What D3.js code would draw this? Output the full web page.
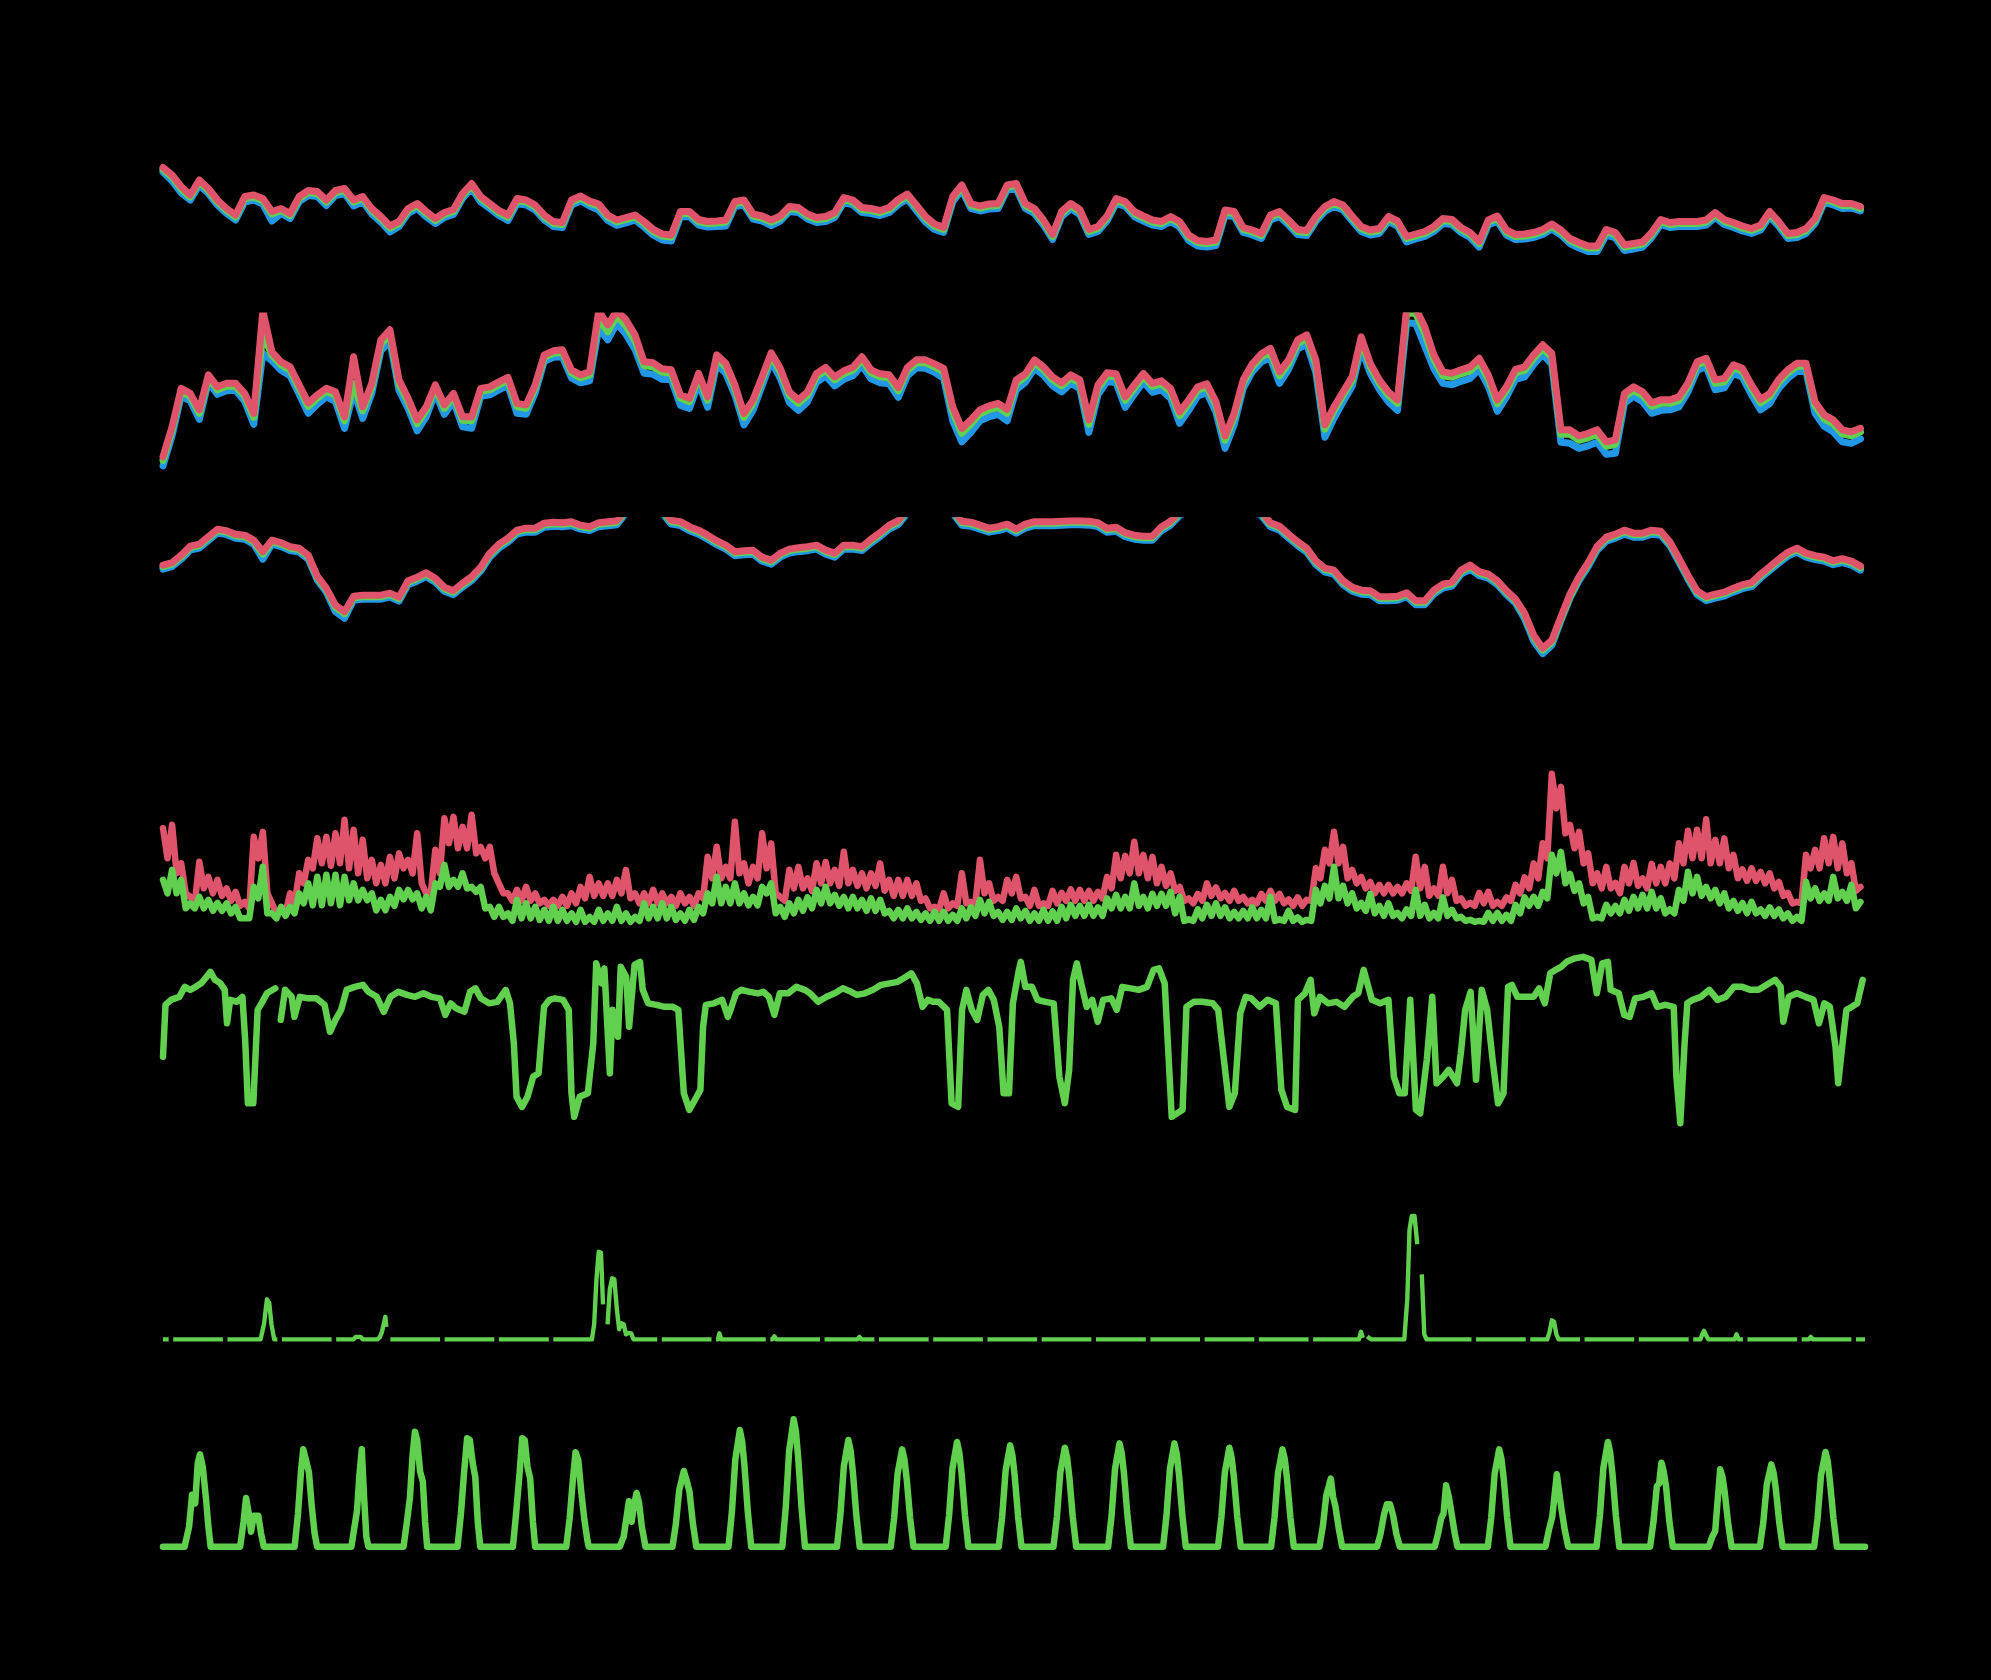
<!DOCTYPE html>
<html><head><meta charset="utf-8">
<script src="https://cdn.jsdelivr.net/npm/d3@7"></script>
<style>html,body{margin:0;padding:0;background:#000;}svg{display:block;}</style>
</head><body>
<script>
// ---------------- DATA ----------------
// Time axis: hours since start of record (0..750).
const STEP_H = 4;        // sampling step of panels 1-3 series
const STEP_H_WIND = 2;   // sampling step of panel 4 series
const timeDomain = [0, 750];

// Panel 1 – three closely tracking series
const p1Red = [18.5,17.0,14.7,13.0,16.0,14.3,12.0,10.3,9.0,12.7,
13.0,12.3,9.7,10.3,9.3,12.7,13.9,13.7,12.0,13.9,
14.3,12.0,12.7,10.3,8.7,6.8,7.7,10.3,11.3,9.7,
8.3,9.5,10.1,13.3,15.3,12.7,11.3,9.9,9.0,12.3,
12.0,11.0,9.0,7.7,7.5,12.0,12.8,11.8,11.2,9.0,
8.0,8.5,9.0,7.7,6.1,5.2,5.0,9.7,9.7,8.1,
7.7,7.8,8.0,11.7,12.0,9.2,8.8,8.0,8.8,10.7,
10.5,9.2,8.5,8.7,9.5,12.5,12.0,10.5,10.3,9.9,
10.5,12.1,13.2,11.0,8.7,7.2,6.5,12.7,15.0,11.3,
10.8,11.2,11.3,15.0,15.3,11.3,10.3,8.0,5.1,9.7,
11.3,10.1,6.1,6.7,8.8,12.3,11.7,9.7,8.8,8.0,
7.7,8.7,7.7,5.0,3.9,3.7,4.0,10.0,9.7,6.5,
6.0,5.3,9.0,9.7,8.0,6.1,5.9,8.7,10.7,11.7,
11.0,8.8,6.7,6.0,6.3,8.7,7.8,4.7,5.2,5.7,
6.7,8.3,8.1,6.5,5.5,3.7,8.0,8.8,6.0,5.1,
5.2,5.5,6.1,7.2,6.0,4.3,3.5,2.8,2.8,6.1,
5.5,3.0,3.3,3.6,5.5,8.1,7.5,7.7,7.7,7.7,
8.0,9.5,8.1,7.5,6.8,6.3,7.0,9.7,7.7,5.3,
5.5,6.3,8.3,12.5,12.0,11.3,11.3,10.7];
const p1Green = [18.1,16.6,14.2,12.6,15.6,13.9,11.6,9.9,8.6,12.3,
12.6,11.9,9.2,9.9,8.9,12.3,13.5,13.3,11.6,13.5,
13.9,11.6,12.3,9.9,8.3,6.4,7.3,9.9,10.9,9.3,
7.9,9.1,9.7,12.9,14.9,12.3,10.9,9.5,8.6,11.9,
11.6,10.6,8.6,7.3,7.1,11.6,12.4,11.4,10.8,8.6,
7.6,8.1,8.6,7.3,5.7,4.8,4.6,9.3,9.3,7.7,
7.3,7.4,7.6,11.3,11.6,8.8,8.4,7.6,8.4,10.3,
10.1,8.8,8.1,8.3,9.1,12.1,11.6,10.1,9.9,9.5,
10.1,11.7,12.8,10.6,8.3,6.8,6.1,12.3,14.6,10.9,
10.4,10.8,10.9,14.6,14.9,10.9,9.9,7.6,4.7,9.3,
10.9,9.7,5.7,6.3,8.4,11.9,11.3,9.3,8.4,7.6,
7.3,8.3,7.3,4.6,3.5,3.3,3.6,9.6,9.3,6.1,
5.6,4.9,8.6,9.3,7.6,5.7,5.5,8.3,10.3,11.3,
10.6,8.4,6.3,5.6,5.9,8.3,7.4,4.3,4.8,5.3,
6.3,7.9,7.7,6.1,5.1,3.3,7.6,8.4,5.6,4.7,
4.8,5.1,5.7,6.8,5.6,3.9,3.1,2.4,2.4,5.7,
5.1,2.6,2.9,3.2,5.1,7.7,7.1,7.3,7.3,7.3,
7.6,9.1,7.7,7.1,6.4,5.9,6.6,9.3,7.3,4.9,
5.1,5.9,7.9,12.1,11.6,10.9,10.9,10.3];
const p1Blue = [17.6,15.8,13.4,12.0,15.0,13.3,11.0,9.3,8.0,11.6,
12.0,11.2,7.8,9.3,8.3,11.7,12.9,12.7,10.9,12.9,
13.3,10.8,11.7,9.2,7.6,5.6,6.7,9.3,10.3,8.6,
7.3,8.5,9.1,12.3,14.3,11.6,10.3,8.9,7.9,11.3,
11.0,10.0,8.0,6.7,6.5,11.0,11.8,10.8,10.0,7.9,
6.9,7.4,8.0,6.6,5.0,4.0,3.8,8.6,8.7,7.0,
6.6,6.7,6.8,10.7,11.0,8.2,7.8,6.9,7.8,9.7,
9.5,8.2,7.5,7.7,8.5,11.5,11.0,9.5,9.3,8.9,
9.5,11.1,12.2,9.9,7.6,6.1,5.5,11.6,14.0,10.3,
9.8,10.2,10.3,14.0,14.2,10.3,9.3,7.0,4.1,8.7,
10.3,9.1,5.1,5.7,7.8,11.3,10.7,8.7,7.8,7.0,
6.7,7.7,6.6,3.9,2.8,2.6,2.9,8.9,8.7,5.5,
5.0,4.3,8.0,8.7,7.0,5.1,4.9,7.7,9.7,10.7,
10.0,7.8,5.7,5.0,5.3,7.7,6.8,3.6,4.2,4.7,
5.7,7.3,7.1,5.5,4.5,2.6,7.0,7.8,5.0,4.1,
4.2,4.5,5.1,6.2,5.0,3.3,2.4,1.7,1.7,5.0,
4.4,1.9,2.2,2.6,4.5,7.1,6.5,6.7,6.7,6.7,
7.0,8.5,7.1,6.5,5.8,5.3,6.0,8.7,6.7,4.3,
4.5,5.3,7.3,11.5,11.0,10.3,10.4,9.8];

// Panel 2 – three series (top clipped)
const p2Red = [35.3,41.3,49.0,48.0,44.7,51.7,49.3,50.0,50.0,48.0,
44.0,64.5,56.3,54.3,53.3,49.7,46.1,47.7,49.0,48.3,
43.3,55.3,45.3,50.0,58.7,60.7,50.7,47.0,42.7,45.3,
49.7,45.7,48.0,43.3,43.3,49.0,49.3,50.3,51.2,46.0,
45.7,49.7,55.7,56.5,56.7,52.7,51.7,52.3,64.5,61.7,
64.5,62.7,59.7,54.3,54.1,52.9,52.7,47.7,47.0,52.0,
47.3,55.7,54.0,49.7,44.0,46.7,51.3,56.1,53.0,48.3,
46.7,48.3,52.0,53.2,51.3,52.5,53.2,55.3,52.7,51.9,
51.7,49.2,53.2,54.7,54.7,53.9,53.0,45.3,41.0,42.7,
44.7,45.5,46.0,44.8,50.7,51.9,54.7,53.3,51.3,50.1,
51.7,50.7,42.7,49.7,52.1,51.9,47.3,49.7,52.0,50.0,
50.5,49.0,44.3,46.7,49.3,49.9,46.3,39.5,44.0,50.7,
53.9,55.9,57.0,52.3,54.7,58.7,59.7,54.7,41.7,45.3,
48.3,51.3,59.3,54.0,50.7,48.3,46.7,65.0,65.0,61.3,
55.7,52.3,52.0,52.7,53.3,55.0,51.7,46.7,49.3,52.8,
53.3,55.7,57.7,56.0,40.7,40.7,39.5,40.0,40.7,38.3,
38.7,48.0,49.3,48.3,46.1,46.7,46.7,47.3,50.1,54.3,
55.0,50.7,51.0,53.7,53.0,49.7,46.8,48.0,50.8,52.7,
54.0,54.0,46.3,43.7,42.7,40.7,40.3,41.0];
const p2Green = [34.6,40.6,48.4,47.4,44.0,51.2,48.7,49.4,49.4,47.4,
43.2,60.0,55.6,53.7,52.6,49.0,45.4,47.0,48.4,47.6,
42.5,50.0,44.5,49.2,57.8,59.8,49.9,46.3,41.9,44.6,
49.1,45.0,47.4,42.6,42.5,48.4,48.7,49.7,50.6,45.3,
45.0,49.1,55.2,56.0,56.2,52.1,51.1,51.7,63.0,60.3,
63.5,61.5,58.5,53.5,53.3,52.2,52.0,47.0,46.3,51.3,
46.6,55.0,53.3,49.0,43.2,46.0,50.7,55.5,52.3,47.6,
46.0,47.6,51.4,52.6,50.7,51.9,52.6,54.7,52.1,51.3,
51.1,48.5,52.6,54.1,54.1,53.3,52.3,44.3,40.0,41.8,
43.9,44.7,45.2,44.0,50.0,51.3,54.1,52.7,50.7,49.5,
51.1,50.1,41.8,49.0,51.5,51.3,46.6,49.0,51.4,49.4,
49.9,48.3,43.5,46.0,48.7,49.3,45.6,38.6,43.2,50.1,
53.3,55.3,56.2,51.5,54.0,58.0,59.0,53.8,40.8,44.5,
47.6,50.6,58.5,53.3,50.0,47.6,46.0,64.0,64.0,60.0,
54.8,51.5,51.2,51.9,52.5,54.2,50.9,45.9,48.6,52.1,
52.6,55.0,57.0,55.2,39.8,39.8,38.6,39.1,39.8,37.4,
37.8,47.3,48.6,47.6,45.4,46.0,46.0,46.6,49.5,53.7,
54.4,50.0,50.3,53.1,52.4,49.0,46.1,47.3,50.2,52.1,
53.4,53.4,45.5,42.9,41.9,39.9,39.5,40.3];
const p2Blue = [33.5,39.5,47.5,46.5,42.8,50.3,47.8,48.5,48.6,46.4,
41.8,56.0,54.5,52.6,51.5,47.8,44.0,45.8,47.3,46.4,
41.0,48.5,43.0,48.0,56.5,58.5,48.6,45.0,40.5,43.3,
48.1,43.8,46.4,41.3,41.0,47.4,47.7,48.7,49.6,44.0,
43.8,48.1,54.4,55.2,55.3,51.1,50.1,50.5,61.0,58.7,
62.0,59.8,56.8,52.0,51.8,50.8,50.7,45.6,45.0,50.0,
45.2,53.8,52.0,47.7,41.7,44.6,49.5,54.4,51.0,46.2,
44.6,46.3,50.2,51.5,49.5,50.8,51.5,53.6,50.9,50.1,
49.9,47.2,51.5,53.1,53.0,52.2,51.0,42.5,38.3,40.2,
42.5,43.3,43.8,42.5,48.7,50.2,53.0,51.6,49.5,48.3,
50.0,48.9,40.2,47.7,50.4,50.1,45.2,47.8,50.3,48.2,
48.7,47.0,42.0,44.6,47.5,48.1,44.2,37.0,41.7,49.0,
52.3,54.3,55.0,50.0,52.8,56.9,57.8,52.2,39.2,43.0,
46.3,49.4,57.0,52.0,48.8,46.3,44.6,62.0,62.0,57.5,
53.0,50.0,49.7,50.4,51.0,52.8,49.4,44.4,47.3,50.8,
51.3,53.8,55.8,53.8,38.2,38.0,37.0,37.5,38.2,35.8,
36.0,46.0,47.4,46.3,44.0,44.6,44.7,45.3,48.3,52.6,
53.3,48.7,49.1,52.0,51.2,47.7,44.7,46.0,49.0,51.0,
52.4,52.3,44.0,41.4,40.3,38.3,38.0,38.9];

// Panel 3 – three series (top clipped)
const p3Red = [54.3,54.8,56.3,58.1,58.5,60.0,61.5,61.2,60.5,60.3,
59.3,57.0,59.3,58.8,58.0,57.7,56.3,52.1,49.7,46.3,
45.0,48.1,48.3,48.3,48.3,48.7,47.9,51.2,51.9,52.8,
51.7,49.9,49.2,50.7,52.0,53.9,56.7,58.5,59.7,61.3,
61.7,61.7,62.7,62.9,62.8,63.0,62.3,62.0,62.8,63.0,
63.2,65.5,67.0,68.0,67.0,65.5,63.3,63.0,62.0,61.3,
60.3,59.2,58.3,57.0,57.2,57.3,55.9,55.3,56.7,57.5,
57.8,58.0,58.3,57.3,56.7,58.3,58.3,58.0,59.5,60.8,
62.3,63.2,65.5,67.0,68.0,67.0,66.0,65.5,63.1,62.9,
62.3,61.7,62.0,62.5,61.5,62.5,63.0,63.0,63.0,63.1,
63.2,63.2,63.1,62.8,61.7,61.9,60.8,60.3,60.1,60.1,
62.0,63.1,65.0,66.0,68.0,69.0,70.0,69.0,68.0,67.0,
66.0,65.0,62.8,62.1,60.5,59.0,57.7,55.2,53.7,53.3,
51.2,49.9,49.3,49.2,48.0,48.0,48.1,48.8,47.2,47.2,
49.3,50.5,50.9,53.3,54.3,53.0,52.5,51.2,49.2,47.5,
44.7,40.3,37.7,39.3,44.0,48.5,52.0,54.8,58.1,59.9,
60.5,61.3,60.7,60.7,61.3,61.1,59.0,55.7,52.3,49.2,
48.0,48.5,48.9,49.7,50.4,50.8,52.5,54.0,55.5,56.9,
57.7,56.7,56.2,55.9,55.2,55.6,55.1,54.1];
const p3Green = [54.0,54.5,56.0,57.8,58.2,59.7,61.2,60.9,60.2,60.0,
59.0,56.5,59.0,58.5,57.7,57.4,56.0,51.8,49.4,45.9,
44.6,47.8,48.0,48.0,48.0,48.4,47.6,50.9,51.6,52.5,
51.4,49.6,48.9,50.4,51.7,53.6,56.4,58.2,59.4,61.0,
61.4,61.4,62.4,62.6,62.5,62.7,62.0,61.7,62.5,62.7,
62.9,65.2,66.7,67.7,66.7,65.2,63.0,62.7,61.7,61.0,
60.0,58.9,58.0,56.7,56.9,57.0,55.6,55.0,56.4,57.2,
57.5,57.7,58.0,57.0,56.4,58.0,58.0,57.7,59.2,60.5,
62.0,62.9,65.2,66.7,67.7,66.7,65.7,65.2,62.8,62.6,
62.0,61.4,61.7,62.2,61.2,62.2,62.7,62.7,62.7,62.8,
62.9,62.9,62.8,62.5,61.4,61.6,60.5,60.0,59.8,59.8,
61.7,62.8,64.7,65.7,67.7,68.7,69.7,68.7,67.7,66.7,
65.7,64.7,62.5,61.8,60.2,58.7,57.4,54.9,53.4,53.0,
50.9,49.6,49.0,48.9,47.7,47.7,47.8,48.5,46.9,46.9,
49.0,50.2,50.6,53.0,54.0,52.7,52.2,50.9,48.9,47.2,
44.3,39.9,37.3,38.9,43.6,48.1,51.7,54.5,57.8,59.6,
60.2,61.0,60.4,60.4,61.0,60.8,58.7,55.4,52.0,48.9,
47.7,48.2,48.6,49.4,50.1,50.5,52.2,53.7,55.2,56.6,
57.4,56.4,55.9,55.6,54.9,55.3,54.8,53.8];
const p3Blue = [53.5,54.0,55.5,57.3,57.7,59.2,60.7,60.4,59.7,59.5,
58.5,55.5,58.5,58.0,57.2,56.9,55.5,51.3,48.9,45.0,
43.7,47.3,47.5,47.5,47.5,47.9,47.1,50.4,51.1,52.0,
50.9,49.1,48.4,49.9,51.2,53.1,55.9,57.7,58.9,60.5,
60.9,60.9,61.9,62.1,62.0,62.2,61.5,61.2,62.0,62.2,
62.4,64.7,66.2,67.2,66.2,64.7,62.5,62.2,61.2,60.5,
59.5,58.4,57.5,56.2,56.4,56.5,55.1,54.5,55.9,56.7,
57.0,57.2,57.5,56.5,55.9,57.5,57.5,57.2,58.7,60.0,
61.5,62.4,64.7,66.2,67.2,66.2,65.2,64.7,62.3,62.1,
61.5,60.9,61.2,61.7,60.7,61.7,62.2,62.2,62.2,62.3,
62.4,62.4,62.3,62.0,60.9,61.1,60.0,59.5,59.3,59.3,
61.2,62.3,64.2,65.2,67.2,68.2,69.2,68.2,67.2,66.2,
65.2,64.2,62.0,61.3,59.7,58.2,56.9,54.4,52.9,52.5,
50.4,49.1,48.5,48.4,47.2,47.2,47.3,48.0,46.4,46.4,
48.5,49.7,50.1,52.5,53.5,52.2,51.7,50.4,48.4,46.7,
43.6,39.1,36.6,38.3,43.2,47.7,51.2,54.0,57.3,59.1,
59.7,60.5,59.9,59.9,60.5,60.3,58.2,54.9,51.5,48.4,
47.2,47.7,48.1,48.9,49.6,50.0,51.7,53.2,54.7,56.1,
56.9,55.9,55.4,55.1,54.4,54.8,54.3,53.3];

// Panel 4 – gust (red) and mean wind (green), 2-hourly
const p4Gust = [21.0,15,21.7,12,14.0,8,7.3,6,14.3,9,
11.3,8,10.7,7.5,9.0,6.5,8.3,5.5,6.3,5,
19.3,15,20.3,8,6.0,4,4.7,4,8.0,6,
12.0,10,14.7,13,19.0,14,19.3,13.5,20.0,14,
22.7,13,20.7,12,18.7,11,14.7,10,13.7,10,
15.3,11,16.0,13,14.7,12,20.0,10,8.0,8,
16.7,12,23.0,18,23.3,17,21.3,17,23.7,16,
17.3,15,17.3,12,10.0,8,8.0,6.5,8.7,6.5,
9.3,6.5,8.0,6,6.7,5.5,6.7,5.5,7.3,5.5,
8.0,6,9.3,7,11.3,7.5,10.0,7.5,10.0,7.5,
10.7,8,12.7,7,8.0,6,8.0,6,8.7,6,
8.0,6,7.3,5.5,8.0,6,7.3,5.5,8.0,7,
15.3,11,17.3,11,13.3,11,22.3,12,14.0,10,
13.3,11,20.0,13,18.0,8,7.3,6.5,12.7,9,
13.3,9,11.0,8.5,14.0,10,14.3,10,12.7,9.5,
16.3,10,12.7,9.5,12.0,9,12.0,9.5,14.0,8.5,
10.7,7.5,10.7,7.5,10.7,7.5,10.0,6.5,7.0,5,
5.3,4.8,8.0,5,6.0,5.5,12.0,6,6.3,6,
14.7,8,10.0,6.5,7.3,6.5,10.7,8,11.3,7,
7.3,5.5,8.7,5.5,6.0,5.5,8.5,6,8.1,6.5,
8.8,6.5,8.7,6.5,8.5,6.5,8.3,7,11.3,9,
15.7,11,15.5,12,18.3,12,15.7,11,15.3,10,
13.3,9.5,12.0,8.5,9.3,6.5,7.0,6,7.9,6.5,
10.0,7.5,9.2,7,8.1,6.5,8.5,6.5,7.3,6,
6.7,6,7.9,6.5,8.5,6.5,7.9,6,6.8,5.5,
7.2,5.5,6.7,6.5,13.0,11,16.7,14,20.3,14,
17.3,11,12.7,10,11.3,9,10.3,8,9.7,8,
9.7,8,9.3,8,10.0,8.5,15.3,9,13.3,7.5,
9.0,7.5,13.3,8,10.7,6.5,7.0,5.5,6.1,5.5,
8.1,6,8.3,5.5,6.3,5.5,7.2,6.5,9.7,8,
11.2,9,14.0,11,18.0,15,31.9,25,29.3,20,
21.7,17,20.3,14,16.0,10,12.0,9,13.3,9,
10.1,8,13.3,10,14.1,9.5,11.0,9,13.9,10,
13.3,10,14.0,11,18.0,14,20.5,15,20.7,15,
22.8,14,18.7,14,19.0,13,15.7,11,12.8,10.5,
13.0,10.5,12.3,10,12.0,9,10.3,7.5,8.1,6,
6.3,6,15.7,13,16.7,13,19.0,14,19.3,13,
18.0,12,14.0,8.5,9.3];
const p4Mean = [10.7,8,12.7,8,10.7,5,6.0,5,7.3,5,
6.7,4.5,6.1,4.5,6.0,4,5.3,3,3.0,3,
9.3,7,13.3,4,4.0,3,5.3,3.5,5.3,4,
8.0,6,10.0,5.6,11.3,5.6,11.7,6,11.7,5.6,
11.3,6.6,10.0,6.6,8.7,6.6,8.0,4.6,6.7,4.6,
7.3,5.5,8.7,6.8,8.7,6.8,8.0,5,7.3,4.6,
10.0,9.3,13.7,9.3,10.7,9.3,12.0,9,9.3,8.3,
9.3,5,5.3,3.3,5.3,3.3,4.0,2.5,6.7,3,
6.0,3,5.3,2.7,4.7,2.5,5.3,2.5,4.7,2.5,
4.0,2.3,4.7,2.3,3.3,2.3,4.7,2.5,4.0,2.5,
5.3,2.5,4.0,2.3,3.3,2.5,6.0,3,5.3,3,
6.0,3,5.3,2.7,4.0,2.5,4.7,2.7,5.3,4,
8.0,6,11.3,6,9.3,6,10.0,6,8.0,5.6,
7.3,5.6,9.3,8,10.0,4,5.3,3.3,6.0,4,
6.7,4.5,7.2,5,8.7,6,9.3,6,7.7,5.5,
7.3,5,7.3,5,6.7,4.5,7.0,4.5,6.7,4,
4.5,3,4.7,3,5.0,3,4.3,2.7,4.0,2.5,
4.3,2.5,4.3,2.5,3.7,2.5,5.0,3,5.2,3.5,
6.7,4,6.3,3.5,4.3,2.7,4.3,2.7,5.0,3,
4.5,2.5,4.0,2.5,4.7,2.5,4.4,2.5,5.3,3,
5.7,3.5,5.5,3.5,5.7,3.5,5.2,3.5,7.0,5,
7.7,5,7.3,5,10.0,5.5,7.3,5,7.9,5.5,
7.9,5.5,8.3,4,7.3,2.5,2.8,2.5,4.8,3,
5.7,3.5,6.0,3.5,5.2,3,4.3,3,4.5,3,
5.2,3,4.7,3,7.3,2.5,2.8,2.5,4.5,2.5,
3.2,2.3,2.7,2.5,8.7,6,9.5,7,13.3,7,
9.5,6,8.0,5,6.1,4.5,7.9,4,5.5,3.5,
6.0,3.5,4.1,3,4.8,3.5,8.7,3.5,5.7,3,
4.1,3,7.2,3.5,4.7,3,3.3,2.5,2.7,2.3,
2.5,2.3,4.1,2.5,4.1,2.5,3.7,2.5,5.7,4,
7.2,5.5,7.3,5.5,8.3,7,15.7,12,16.3,10,
11.9,8.5,10.0,6,7.3,3,3.3,3,5.7,4,
5.5,4,6.7,4.5,7.3,5,7.7,5,8.3,5,
7.0,4,4.8,4,8.7,6.5,12.3,8,11.3,7.5,
9.3,7,8.7,6,8.0,5,6.5,4.5,6.1,4,
6.3,4,4.8,3.5,5.2,3.5,4.8,3,4.0,2.5,
3.3,2.5,10.3,7,9.0,6.5,8.0,6.5,11.3,7,
8.3,6.5,9.7,5,6.3];

// Panel 5 – [hour, value] (null = missing)
const p5Series = [[0,17.3],[1.1,27.7],[3.5,28.7],[7.2,29.3],[9.6,31.3],[12,30.7],[14.4,31.3],[16.8,32],[19.2,33.3],[20.9,34.3],[22.9,32.7],[25.3,32],[27.2,30.7],[28.2,24],[29.6,28.7],[32.5,28.3],[35,29.3],[36.2,20.7],[37.4,8],[39.8,8],[41.7,26.7],[43.4,28],[45.8,30],[49.5,31],[50.6,null],[51.9,24.7],[53.8,30.7],[56.7,29.3],[57.9,25.3],[60.3,29.3],[64,29],[67.6,29],[71.2,27.7],[73.6,22.3],[76,24.7],[78.5,26.7],[80.9,30.7],[84.5,31.3],[88.1,31.7],[90.5,30.3],[94.2,29.3],[97.3,26.3],[100.2,29.3],[103.8,30.3],[107.5,29.7],[111.1,29.3],[114.7,30],[118.3,29.3],[122,29],[124.4,25.7],[126.8,28],[129.2,27],[132.8,26.3],[135.3,30.3],[137.7,31],[140.1,29],[143.7,28],[147.3,28.3],[151,30.7],[152.9,28],[154.6,20],[155.8,9.3],[158.2,7.3],[160.6,9.3],[163.1,13.3],[165.5,14],[167.9,27.3],[170.3,28.7],[172.7,29],[176.3,28.7],[178.8,26.7],[180,10],[181.2,5.3],[183.6,9.3],[187.2,10],[189.6,20],[190.9,36],[193.3,32],[194.5,35],[196.9,14],[198.1,26.7],[200.5,21.3],[201.7,35.3],[204.1,33.3],[205.4,23.3],[207.8,35.7],[210.2,36.3],[211.4,30.7],[213.8,28],[217.4,27.7],[221.1,27.3],[224.7,27.3],[227.1,26.7],[229.5,10],[231.9,6.7],[234.4,8.7],[236.8,10.7],[238,23.3],[239.2,27.7],[242.8,28],[246.4,28.7],[248.9,25.3],[250.1,26.7],[252.5,30],[254.9,30.7],[258.5,30.3],[262.2,30],[264.6,30.3],[267,29.3],[269.4,25.7],[271.8,30],[275.4,30],[279.1,31.3],[282.7,30.7],[285.1,30],[288.7,28.3],[292.4,29.3],[296,30],[299.6,31],[303.2,30.3],[305.7,29.7],[309.3,30],[312.9,30.7],[316.5,31.7],[320.2,32],[323.8,32.3],[327.4,33.3],[329.8,34],[332.2,32],[334.7,27.3],[337.1,28.7],[339.5,28.3],[341.9,28.3],[345.5,26.7],[347.5,8],[350.4,7.3],[352.1,26.7],[354,30.7],[356.4,26.7],[358.8,24.7],[361.3,29.7],[363.7,30.7],[366.1,28.7],[368.5,23.3],[370.4,10],[372.8,10],[374.5,28],[377,34.3],[378,36.3],[380,31.3],[382.9,31.3],[385.3,28.7],[388.9,28.3],[392.5,28],[395,13.3],[397.4,8],[399.3,14.7],[401,32.7],[402.7,36],[404.6,32],[407,27.3],[409.5,28.7],[411.9,24.3],[414.3,28.7],[417.9,29],[420.3,26.7],[422.7,31.3],[426.4,31],[430,30.7],[433.6,31.3],[436.5,34.7],[438.9,35],[441.4,32],[442.8,20],[444.5,5.3],[446.9,6],[449.3,6.7],[451,27.3],[454.2,28.3],[457.8,28.3],[462.6,28],[465,26.7],[467.5,16.7],[469.9,7.3],[472.3,10],[474.7,26],[477.1,29.3],[479.5,29],[483.2,27.3],[486.8,28.7],[490.4,28],[492.8,10.7],[495.3,7.3],[498.9,6.7],[500.1,28.7],[503.2,30],[505.7,32.7],[507.3,26],[509.8,29.3],[513.4,28],[517,28.3],[520.6,27.3],[524.3,29.3],[526.7,30],[529.1,34.7],[530.3,32.7],[532.7,28.7],[536.4,28],[540,28.7],[542.4,13.3],[544.8,10],[547.2,10],[549.6,28.7],[552.1,6.7],[554,6],[556.9,16.7],[559.3,29.3],[561.2,12],[564.1,13.3],[566.6,14.7],[570.2,12],[571.9,18],[573.8,26.7],[576.2,30.3],[578.6,12.7],[581.1,30.7],[583.5,26.7],[585.9,16.7],[588.3,8],[590.7,10],[592.7,31.3],[594.4,31.7],[596.8,29.3],[600.4,29.3],[604,29.3],[606.4,31],[608.9,28],[611.3,34],[613.7,34.7],[616.1,35.3],[618.5,36.3],[622.2,37],[625.8,37.3],[629.4,36.7],[631.8,30],[634.2,36],[636.7,36.3],[637.9,30.7],[641.5,30],[643.9,25.7],[646.3,25.3],[648.7,29],[652.4,29.3],[656,30],[658.4,27.3],[662,27.7],[665.7,27.3],[666.9,13.3],[668.6,4],[670.5,20],[671.7,28],[674.1,28.7],[677.7,29.3],[681.4,30.7],[685,28.7],[688.6,29.3],[692.2,31.3],[695.9,31.3],[699.5,30.7],[703.1,30.7],[706.7,31.7],[710.4,32.7],[712.8,31.3],[714,24.3],[716.4,29.3],[720,30],[723.7,29.3],[727.3,28.7],[729.7,24],[732.1,28],[734.5,27.3],[737,19.3],[738.2,12],[740.1,20],[741.8,26.7],[744.2,27.3],[746.6,28],[749,32.7]];

// Panel 6 – precipitation [hour, value] (null = daily break)
const p6Series = [[0,0],[2.5,0],[3.5,null],[4.5,0],[26.4,0],[27.4,null],[28.4,0],
[43,0],[44.5,3],[45.8,8],[46.8,7.3],[47.8,3],[49,0],[50.4,0],[51.4,null],[52.4,0],
[74.3,0],[75.3,null],[76.3,0],[84,0],[85,0.5],[87,0.5],[88,0],
[94.5,0],[95.5,0.4],[96.5,1.5],[97.5,3.5],[98,4.5],[98.4,2.5],[99.2,null],[100.2,0],
[122.1,0],[123.1,null],[124.1,0],[146,0],[147,null],[148,0],[170,0],[171,null],[172,0],
[189,0],[190,3],[191,12],[192,17.5],[193,17.3],[193.9,7],[194.9,null],[195.9,3],[196.9,10],[197.9,12.2],[198.9,12],[200,6],[201,2],[202,3.2],[203,3],[204,1],[205,1.3],[206.3,1.2],[207.3,0],
[217.8,0],[218.8,null],[219.8,0],[241.7,0],[242.7,null],[243.7,0],[244.5,0],[245.2,1.2],[246,0],
[265.6,0],[266.6,null],[267.6,0],[268.5,0],[269.4,0.6],[270.3,0],
[289.5,0],[290.5,null],[291.5,0],[306,0],[306.9,0.5],[307.8,0],
[313.5,0],[314.5,null],[315.5,0],[337.4,0],[338.4,null],[339.4,0],
[361.3,0],[362.3,null],[363.3,0],[385.2,0],[386.2,null],[387.2,0],
[409.1,0],[410.1,null],[411.1,0],[433.1,0],[434.1,null],[435.1,0],
[457,0],[458,null],[459,0],[480.9,0],[481.9,null],[482.9,0],
[504.8,0],[505.8,null],[506.8,0],
[527,0],[527.9,1.5],[528.7,0.3],[529.7,null],[530.7,0.6],[531.7,0.2],[532.5,0],
[547,0],[548.3,8],[549.3,22],[550.3,24.7],[551.5,24.7],[552.7,19],[553.7,null],[554.7,13],[555.8,1],[556.8,0],
[576.6,0],[577.6,null],[578.6,0],[600.5,0],[601.5,null],[602.5,0],
[610,0],[611,1.5],[612,3.8],[613,3.5],[614,1],[615,0],
[624.4,0],[625.4,null],[626.4,0],[648.3,0],[649.3,null],[650.3,0],
[672.3,0],[673.3,null],[674.3,0],[677.5,0],[678.3,1],[679.1,1.7],[680,0.8],[681,0],
[692.5,0],[693.4,1.0],[694.3,0],[696.2,0],[697.2,null],[698.2,0],
[720.1,0],[721.1,null],[722.1,0],[725.2,0],[726.1,0.5],[727,0],
[744,0],[745,null],[746,0],[750,0]];

// Panel 7 – solar radiation [hour, W/m²]
const p7Series = [[0,0],
[9.5,0],[11.5,120],[12.8,312],[14.2,260],[15.3,500],[16.3,554],[17.5,480],[19,280],[20,120],[21,0],
[34,0],[35.5,150],[36.6,292],[37.8,200],[38.8,90],[40,186],[42,186],[43.2,80],[44.4,0],
[58,0],[59.5,200],[60.8,450],[61.8,584],[63,520],[64.3,447],[65.5,250],[66.8,80],[67.9,0],
[83,0],[84.5,130],[85.5,215],[86.5,420],[87.6,584],[88.6,300],[89.6,60],[90.5,0],
[106,0],[107.5,150],[108.8,292],[110,550],[111,690],[112,640],[113.3,450],[114.5,390],[115.5,150],[116.4,0],
[129.8,0],[131.3,200],[132.7,450],[134,651],[135.2,640],[136.5,500],[137.6,418],[138.7,150],[139.8,0],
[154.2,0],[155.6,200],[157,420],[158.3,651],[159.4,640],[160.6,480],[161.8,409],[163,150],[164,0],
[177.7,0],[179.2,170],[180.6,400],[181.8,567],[183,520],[184.3,331],[185.7,160],[187,40],[187.6,0],
[201.3,0],[203,60],[204.3,180],[205.3,273],[206.5,150],[207.7,260],[208.7,322],[209.8,260],[211,120],[212.6,0],
[224.5,0],[226,136],[227.5,340],[229.5,454],[230.8,394],[232,330],[233.5,140],[235,0],
[249.2,0],[250.7,210],[252.2,525],[254.2,700],[255.2,630],[256.2,490],[257.7,210],[259.2,0],
[272.9,0],[274.4,230],[275.9,573],[277.9,764],[278.9,690],[279.9,535],[281.4,230],[282.9,0],
[297,0],[298.5,192],[300,480],[302,640],[303,576],[304,448],[305.5,192],[307,0],
[320.7,0],[322.2,175],[323.7,438],[325.7,584],[326.7,526],[327.7,409],[329.2,175],[330.7,0],
[344.9,0],[346.4,188],[347.9,471],[349.9,628],[350.9,565],[351.9,440],[353.4,188],[354.9,0],
[368.3,0],[369.8,182],[371.3,456],[373.3,608],[374.3,547],[375.3,426],[376.8,182],[378.3,0],
[392.4,0],[393.9,178],[395.4,445],[397.4,594],[398.4,535],[399.4,416],[400.9,178],[402.4,0],
[416.5,0],[418,186],[419.5,465],[421.5,620],[422.5,558],[423.5,434],[425,186],[426.5,0],
[440.7,0],[442.2,186],[443.7,465],[445.7,620],[446.7,558],[447.7,434],[449.2,186],[450.7,0],
[464.9,0],[466.4,178],[467.9,445],[469.9,594],[470.9,535],[471.9,416],[473.4,178],[474.9,0],
[488.3,0],[489.8,175],[491.3,438],[493.3,584],[494.3,526],[495.3,409],[496.8,175],[498.3,0],
[509.6,0],[511.1,122],[512.6,306],[514.6,408],[515.6,300],[516.6,244],[518.1,110],[519.6,0],
[535,0],[536.5,76],[538,190],[539.3,254],[540.7,254],[542,190],[543.5,76],[545,0],
[560.4,0],[561.9,80],[563.2,168],[564.3,200],[565.4,368],[566.6,300],[567.8,200],[569.2,80],[570.4,0],
[583.8,0],[585.3,175],[586.8,438],[588.8,584],[589.8,526],[590.8,409],[592.3,175],[593.8,0],
[609.2,0],[610.7,100],[612.2,180],[614.2,434],[615.2,330],[616.2,230],[617.7,100],[619.2,0],
[631.7,0],[633.2,188],[634.7,471],[636.7,628],[637.7,565],[638.7,440],[640.2,188],[641.7,0],
[655.3,0],[656.8,151],[658.3,364],[659.3,380],[660.3,504],[661.3,450],[662.3,364],[663.8,151],[665.3,0],
[681.2,0],[682.7,60],[684,94],[685.2,300],[686.2,464],[687.2,418],[688.2,325],[689.7,139],[691.2,0],
[703.7,0],[705.2,148],[706.7,370],[708.7,494],[709.7,445],[710.7,346],[712.2,148],[713.7,0],
[727.6,0],[729.1,170],[730.6,426],[732.6,568],[733.6,511],[734.6,384],[736.1,170],[737.6,0],
[750,0]];

// ---------------- DRAWING ----------------
const W = 1991, H = 1680;
const RED = "#DF536B", GREEN = "#61D04F", BLUE = "#2297E6";

const svg = d3.select("body").append("svg").attr("width", W).attr("height", H);
svg.append("rect").attr("width", W).attr("height", H).attr("fill", "#000");
const defs = svg.append("defs");

const x = d3.scaleLinear().domain(timeDomain).range([163, 1865]);
const regular = (arr, step) => arr.map((v, i) => [i * step, v]);
const trio = (b, g, r) => [[b,BLUE],[g,GREEN],[r,RED]].map(([a,c]) => ({d: regular(a, STEP_H), c}));

const panels = [
  {domain:[0,20],   range:[260,160],       clip:null,        lw:7,   series:trio(p1Blue,p1Green,p1Red)},
  {domain:[0,100],  range:[633.33,133.33], clip:[312.5,700], lw:7,   series:trio(p2Blue,p2Green,p2Red)},
  {domain:[0,100],  range:[836.67,336.67], clip:[517.3,760], lw:7,   series:trio(p3Blue,p3Green,p3Red)},
  {domain:[0,40],   range:[933.33,733.33], clip:null,        lw:6.5, series:[{d:regular(p4Gust,STEP_H_WIND),c:RED},{d:regular(p4Mean,STEP_H_WIND),c:GREEN}]},
  {domain:[0,40],   range:[1143.33,943.33],clip:null,        lw:6.5, series:[{d:p5Series,c:GREEN}]},
  {domain:[0,40],   range:[1339.33,1139.33],clip:null,       lw:4.4, cap:"butt", series:[{d:p6Series,c:GREEN}]},
  {domain:[0,1000], range:[1546.67,1380.0],clip:null,        lw:6.5, series:[{d:p7Series,c:GREEN}]}
];

panels.forEach((p, i) => {
  const y = d3.scaleLinear().domain(p.domain).range(p.range);
  const g = svg.append("g").attr("class", "panel panel-" + (i+1));
  if (p.clip) {
    const id = "clip" + i;
    defs.append("clipPath").attr("id", id).append("rect")
      .attr("x", 0).attr("y", p.clip[0]).attr("width", W).attr("height", p.clip[1] - p.clip[0]);
    g.attr("clip-path", "url(#" + id + ")");
  }
  const line = d3.line()
    .defined(d => d[1] !== null && d[1] !== undefined)
    .x(d => x(d[0]))
    .y(d => y(d[1]));
  p.series.forEach(s => {
    g.append("path")
      .datum(s.d)
      .attr("d", line)
      .attr("fill", "none")
      .attr("stroke", s.c)
      .attr("stroke-width", p.lw)
      .attr("stroke-linejoin", "round")
      .attr("stroke-linecap", p.cap || "round");
  });
});
</script>
</body></html>
